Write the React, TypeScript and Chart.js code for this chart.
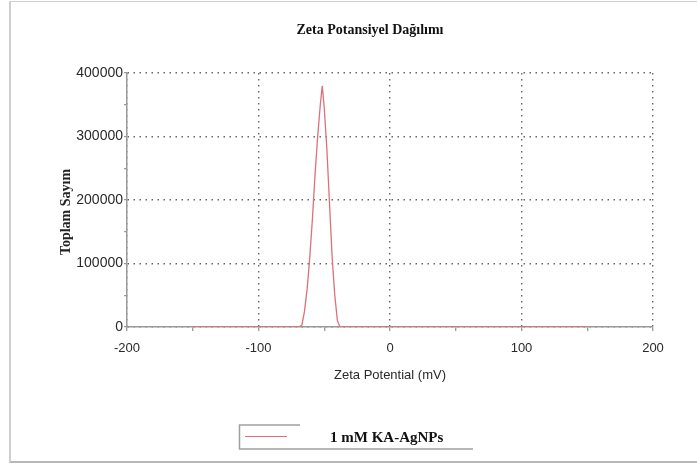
import React, { useEffect, useRef } from "react";
import { Chart, registerables } from "chart.js";

Chart.register(...registerables);

const chartTitle = "Zeta Potansiyel Dağılımı";
const xAxisTitle = "Zeta Potential (mV)";
const yAxisTitle = "Toplam Sayım";
const seriesLabel = "1 mM KA-AgNPs";

const zetaValues = [-150, -69, -67, -65, -63, -61, -59, -57, -55, -53, -51.5, -50, -48, -46, -44, -42, -40, -38, 150];
const countValues = [0, 0, 3000, 25000, 60000, 110000, 170000, 240000, 300000, 350000, 380000, 345000, 280000, 195000, 110000, 50000, 10000, 0, 0];

const xMin = -200;
const xMax = 200;
const xMajorStep = 100;
const xMinorStep = 50;
const yMin = 0;
const yMax = 400000;
const yMajorStep = 100000;
const yMinorStep = 50000;

const lineColor = "rgb(222,112,124)";
const axisColor = "#9a9a9a";
const gridColor = "#666666";
const textColor = "#2a2a2a";
const sansFont = "'Liberation Sans', Arial, sans-serif";
const serifFont = "'Liberation Serif', 'Times New Roman', serif";

const decorPlugin = {
  id: "decor",
  afterDraw(chart: any) {
    const ctx = chart.ctx as CanvasRenderingContext2D;
    ctx.save();
    // Title
    ctx.fillStyle = "#111";
    ctx.font = `bold 14px ${serifFont}`;
    ctx.textAlign = "center";
    ctx.textBaseline = "middle";
    ctx.fillText(chartTitle, 370, 30);
    // Y title
    ctx.save();
    ctx.translate(66, 212);
    ctx.rotate(-Math.PI / 2);
    ctx.font = `bold 14px ${serifFont}`;
    ctx.fillStyle = "#222";
    ctx.fillText(yAxisTitle, 0, 0);
    ctx.restore();
    // Legend bracket
    ctx.strokeStyle = "#a0a0a0";
    ctx.lineWidth = 1.5;
    ctx.beginPath();
    ctx.moveTo(300, 425);
    ctx.lineTo(239.5, 425);
    ctx.lineTo(239.5, 449);
    ctx.lineTo(473, 449);
    ctx.stroke();
    ctx.strokeStyle = lineColor;
    ctx.lineWidth = 1.2;
    ctx.beginPath();
    ctx.moveTo(245, 436.5);
    ctx.lineTo(287, 436.5);
    ctx.stroke();
    ctx.fillStyle = "#111";
    ctx.font = `bold 15px ${serifFont}`;
    ctx.textAlign = "left";
    ctx.fillText(seriesLabel, 330, 438);
    ctx.restore();
  },
};

export default function App() {
  const canvasRef = useRef<HTMLCanvasElement | null>(null);

  useEffect(() => {
    if (!canvasRef.current) return;
    const points = zetaValues.map((x, i) => ({ x, y: countValues[i] }));
    const chart = new Chart(canvasRef.current, {
      type: "line",
      data: {
        datasets: [
          {
            label: seriesLabel,
            data: points,
            borderColor: lineColor,
            backgroundColor: lineColor,
            borderWidth: 1.3,
            pointRadius: 0,
            tension: 0,
            fill: false,
          },
        ],
      },
      options: {
        animation: false,
        responsive: true,
        maintainAspectRatio: false,
        layout: { padding: { top: 73, right: 44, bottom: 83, left: 0 } },
        plugins: {
          legend: { display: false },
          title: { display: false },
          tooltip: { enabled: false },
        },
        scales: {
          x: {
            type: "linear",
            min: xMin,
            max: xMax,
            afterFit: (s: any) => {
              s.height = 56;
            },
            ticks: {
              stepSize: xMinorStep,
              autoSkip: false,
              maxRotation: 0,
              padding: 10,
              color: textColor,
              font: { family: sansFont, size: 13 },
              callback: (v: any) => (Number(v) % xMajorStep === 0 ? String(v) : ""),
            },
            grid: {
              drawOnChartArea: true,
              drawTicks: true,
              tickLength: 4,
              lineWidth: 1.4,
              tickWidth: 1.3,
              color: (c: any) =>
                c.tick && c.tick.value % xMajorStep === 0 ? gridColor : "rgba(0,0,0,0)",
              tickColor: axisColor,
            },
            border: { display: true, color: axisColor, width: 1.5, dash: [1.5, 4.5] },
            title: {
              display: true,
              text: xAxisTitle,
              color: textColor,
              font: { family: sansFont, size: 13 },
              padding: { top: 0, bottom: 0 },
            },
          },
          y: {
            type: "linear",
            min: yMin,
            max: yMax,
            afterFit: (s: any) => {
              s.width = 127;
            },
            ticks: {
              stepSize: yMinorStep,
              autoSkip: false,
              padding: 1,
              color: textColor,
              font: { family: sansFont, size: 14 },
              callback: (v: any) => (Number(v) % yMajorStep === 0 ? String(v) : ""),
            },
            grid: {
              drawOnChartArea: true,
              drawTicks: true,
              tickLength: 3,
              lineWidth: 1.4,
              tickWidth: 1.3,
              color: (c: any) =>
                c.tick && c.tick.value % yMajorStep === 0 ? gridColor : "rgba(0,0,0,0)",
              tickColor: axisColor,
            },
            border: { display: true, color: axisColor, width: 1.5, dash: [1.5, 4.5] },
            title: { display: false },
          },
        },
      },
      plugins: [decorPlugin],
    });
    return () => chart.destroy();
  }, []);

  return (
    <div
      style={{
        position: "fixed",
        left: 0,
        top: 0,
        width: 697,
        height: 466,
        background: "#fff",
      }}
    >
      <div
        style={{
          position: "absolute",
          left: 9,
          top: 1,
          width: 697 - 11,
          height: 459,
          borderLeft: "2px solid #cfcfcf",
          borderTop: "1px solid #d0d0d0",
          borderBottom: "2px solid #b8b8b8",
        }}
      />
      <div style={{ position: "absolute", left: 0, top: 0, width: 697, height: 466 }}>
        <canvas ref={canvasRef} />
      </div>
    </div>
  );
}
